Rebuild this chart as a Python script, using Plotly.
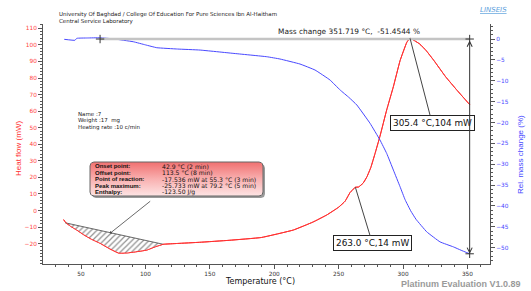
import numpy as np
import plotly.graph_objects as go

# ---------------- data ----------------
temp_heat = [36.5, 38, 42, 46.7, 52, 58, 64.8, 72, 79.2, 86, 92, 101, 108, 113.9,
             125, 142, 165, 190, 214.8, 230, 240.8, 250, 255, 259, 263, 265.5, 269,
             272, 275, 278.3, 282, 287.3, 292.5, 297.7, 302.9, 305.4, 309, 313, 318,
             324, 333, 342, 352]
heat_flow = [-5.5, -7.2, -9.6, -11.8, -14.6, -17.3, -19.8, -23.0, -25.7, -25.6, -25.0,
             -23.9, -21.8, -20.4, -19.9, -19.2, -18.0, -16.3, -11.8, -7.0, -2.7, 2.0,
             5.6, 11.0, 14.0, 14.2, 16.5, 20.4, 26.0, 34.5, 44.6, 60.7, 74.8, 90.5,
             101.5, 104.0, 102.5, 100.5, 96.5, 90.5, 80.8, 72.5, 63.7]

temp_mass = [37, 45.3, 46.7, 55, 64.8, 75, 90.6, 100, 108.8, 125, 142.4, 168, 194.2,
             204.5, 220, 231.7, 243.3, 251.1, 258, 264.1, 274.4, 282.1, 287.3, 292.5,
             297.7, 301.6, 306, 310.1, 318.4, 328.7, 339.1, 345, 351.719]
mass_change = [-0.07, -0.3, 0.17, 0.25, 0.3, 0.05, -0.65, -1.4, -2.08, -2.4, -2.64,
               -3.43, -4.24, -4.79, -5.99, -7.43, -9.82, -12.2, -14.0, -15.8, -20.2,
               -24.2, -27.4, -31.4, -35.4, -38.5, -41.2, -43.2, -46.2, -48.6, -49.8,
               -50.6, -51.4544]

baseline_temp = [37.6, 113.9]
baseline_flow = [-7.4, -20.4]

mass_ref_temp = 64.8
mass_end_temp = 351.719
mass_end_pct = -51.4544

peak_label = (305.4, 104.0, "305.4 °C,104 mW")
shoulder_label = (263.0, 14.0, "263.0 °C,14 mW")
pointer_pt = (72.5, -13.8)

x_ticks = [50, 100, 150, 200, 250, 300, 350]
left_ticks = list(range(-20, 111, 10))
right_ticks = list(range(-50, 1, 5))

callout_labels = ["Onset point:", "Offset point:", "Point of reaction:",
                  "Peak maximum:", "Enthalpy:"]
callout_values = ["42.9 °C (2 min)", "113.5 °C (8 min)",
                  "-17.536 mW at 55.3 °C (3 min)", "-25.733 mW at 79.2 °C (5 min)",
                  "-123.50 J/g"]
sample_info = ["Name :7", "Weight :17  mg", "Heating rate :10 c/min"]

# ---------------- layout geometry ----------------
W, H = 531, 291
L, R, T, B = 43, 490, 24, 264


def P(px, py):
    return (px - L) / (R - L), (B - py) / (B - T)


RED = "#ff3030"
BLUE = "#4848ff"
AX = "#555555"
FONT = "DejaVu Sans"

fig = go.Figure()

# blue mass curve (right axis)
fig.add_trace(go.Scatter(x=temp_mass, y=mass_change, yaxis="y2", mode="lines",
                         line=dict(color=BLUE, width=1, shape="spline", smoothing=0.3),
                         hoverinfo="skip", showlegend=False))

# red heat flow curve
fig.add_trace(go.Scatter(x=temp_heat, y=heat_flow, mode="lines",
                         line=dict(color=RED, width=1, shape="spline", smoothing=0.3),
                         hoverinfo="skip", showlegend=False))

# hatched integration area
fig.add_trace(go.Scatter(x=baseline_temp, y=baseline_flow, mode="lines",
                         line=dict(color="#444444", width=0.8),
                         hoverinfo="skip", showlegend=False))
th = np.array(temp_heat)
hf = np.array(heat_flow)
mask = (th > baseline_temp[0]) & (th < baseline_temp[1])
sub_x = [baseline_temp[0]] + list(th[mask]) + [baseline_temp[1]]
sub_y = [float(np.interp(baseline_temp[0], th, hf))] + list(hf[mask]) + \
        [float(np.interp(baseline_temp[1], th, hf))]
fig.add_trace(go.Scatter(x=sub_x, y=sub_y, mode="lines", line=dict(width=0, color=RED),
                         fill="tonexty", fillcolor="rgba(0,0,0,0)",
                         fillpattern=dict(shape="/", fgcolor="#222222", bgcolor="white",
                                          size=4, solidity=0.3),
                         hoverinfo="skip", showlegend=False))
# redraw red over the hatch
fig.add_trace(go.Scatter(x=temp_heat, y=heat_flow, mode="lines",
                         line=dict(color=RED, width=1, shape="spline", smoothing=0.3),
                         hoverinfo="skip", showlegend=False))

# mass change measurement line
fig.add_trace(go.Scatter(x=[mass_ref_temp, mass_end_temp], y=[0, 0], yaxis="y2",
                         mode="lines", line=dict(color="#c4c4c4", width=2.5),
                         hoverinfo="skip", showlegend=False))
fig.add_trace(go.Scatter(x=[mass_ref_temp, mass_end_temp, mass_end_temp],
                         y=[0, 0, mass_end_pct], yaxis="y2", mode="markers",
                         marker=dict(symbol="cross-thin", size=6,
                                     line=dict(color="#333333", width=1)),
                         hoverinfo="skip", showlegend=False))


# callout box (decoration) on pixel overlay axes
def rounded_rect(x0, y0, x1, y1, r):
    xs, ys = [], []
    corners = [(x1 - r, y0 + r, -90, 0), (x1 - r, y1 - r, 0, 90),
               (x0 + r, y1 - r, 90, 180), (x0 + r, y0 + r, 180, 270)]
    for cx, cy, a0, a1 in corners:
        for a in np.linspace(a0, a1, 6):
            xs.append(cx + r * np.cos(np.radians(a)))
            ys.append(cy + r * np.sin(np.radians(a)))
    xs.append(xs[0])
    ys.append(ys[0])
    return xs, ys


bx0, by0, bx1, by1 = 90, 162, 263, 196
sx, sy = rounded_rect(bx0 + 2, by0 + 2, bx1 + 2, by1 + 2, 4)
fig.add_trace(go.Scatter(x=sx, y=sy, xaxis="x3", yaxis="y3", mode="lines",
                         fill="toself", fillcolor="#9a9a9a", line=dict(width=0, color="#9a9a9a"),
                         hoverinfo="skip", showlegend=False))
cx_, cy_ = rounded_rect(bx0, by0, bx1, by1, 4)
fig.add_trace(go.Scatter(x=cx_, y=cy_, xaxis="x3", yaxis="y3", mode="lines",
                         fill="toself",
                         fillgradient=dict(type="vertical", start=by1, stop=by0,
                                           colorscale=[[0, "#fde4e4"], [0.5, "#f9b0b0"],
                                                       [1, "#f07070"]]),
                         line=dict(width=1, color="#666666"),
                         hoverinfo="skip", showlegend=False))

ann = []


def txt(px, py, text, size, color="#222222", xa="left", ya="middle", family=FONT, angle=0):
    x, y = P(px, py)
    ann.append(dict(x=x, y=y, xref="paper", yref="paper", text=text, showarrow=False,
                    xanchor=xa, yanchor=ya, textangle=angle,
                    font=dict(family=family, size=size, color=color)))


txt(57, 14.5, "University Of Baghdad / College Of Education For Pure Sciences Ibn Al-Haitham", 5.5)
txt(57, 21.3, "Central Service Laboratory", 5.5)
txt(478, 10, "<i><u>LINSEIS</u></i>", 7, color="#5aa0dc")
txt(275.7, 31, "Mass change 351.719 °C,&nbsp; -51.4544 %", 7.4, color="#222222")
for i, s in enumerate(sample_info):
    txt(76, 114 + i * 6.8, s, 5.5)
for i, (lab, val) in enumerate(zip(callout_labels, callout_values)):
    yy = 166 + i * 6.6
    txt(93, yy, "<b>" + lab + "</b>", 6, color="#111111", family="Liberation Sans")
    txt(160, yy, val, 6.1, color="#111111")

SANS = "Liberation Sans"
txt(18, 149, "Heat flow (mW)", 8, color=RED, xa="center", family=SANS, angle=-90)
txt(520, 155, "Rel. mass change (%)", 8, color=BLUE, xa="center", family=SANS, angle=-90)
txt(260, 281, "Temperature (°C)", 8, color="#111111", xa="center")
txt(461, 284, "<b>Platinum Evaluation V1.0.89</b>", 9, color="#9a9a9a", xa="center",
    family=SANS)

# value boxes with leader lines
ann.append(dict(x=peak_label[0], y=peak_label[1], xref="x", yref="y", text=peak_label[2],
                showarrow=True, arrowhead=0, arrowwidth=1, arrowcolor="#444444",
                ax=22, ay=84.5, bgcolor="white", bordercolor="#222222", borderwidth=1,
                borderpad=2, font=dict(family=FONT, size=8.9, color="#111111")))
ann.append(dict(x=shoulder_label[0], y=shoulder_label[1], xref="x", yref="y",
                text=shoulder_label[2], showarrow=True, arrowhead=0, arrowwidth=1,
                arrowcolor="#444444", ax=17, ay=56, bgcolor="white",
                bordercolor="#222222", borderwidth=1, borderpad=2,
                font=dict(family=FONT, size=8.9, color="#111111")))
# callout pointer
ann.append(dict(x=pointer_pt[0], y=pointer_pt[1], xref="x", yref="y", text="",
                showarrow=True, arrowhead=1, arrowsize=0.8, arrowwidth=0.8,
                arrowcolor="#444444", ax=41.7, ay=-33.3))
# mass change vertical arrow
ann.append(dict(x=mass_end_temp, y=mass_end_pct, xref="x", yref="y2", text="",
                showarrow=True, axref="x", ayref="y2", ax=mass_end_temp, ay=0,
                arrowside="end+start", arrowhead=5, startarrowhead=5, arrowsize=1,
                startarrowsize=1, arrowwidth=1, arrowcolor="#333333"))

tickfont = dict(family=FONT, size=5.8)

fig.update_layout(
    width=W, height=H, autosize=False,
    margin=dict(l=L, r=W - R, t=T, b=H - B, pad=0),
    paper_bgcolor="white", plot_bgcolor="white",
    showlegend=False,
    xaxis=dict(range=[20.5, 367.5], tickvals=x_ticks, showgrid=False, zeroline=False,
               showline=True, linecolor=AX, linewidth=1, ticks="outside", ticklen=4,
               tickcolor=AX, tickfont=dict(tickfont, color="#333333"),
               minor=dict(ticks="outside", ticklen=2, dtick=10, tick0=0, tickcolor=AX,
                          showgrid=False)),
    yaxis=dict(range=[-32.3, 112.6], tickvals=left_ticks, showgrid=False, zeroline=False,
               showline=True, linecolor=AX, linewidth=1, ticks="outside", ticklen=4,
               tickcolor=AX, tickfont=dict(tickfont, color="#ff4040"),
               minor=dict(ticks="outside", ticklen=2, dtick=2, tick0=0, tickcolor=AX,
                          showgrid=False)),
    yaxis2=dict(range=[-53.9, 3.6], tickvals=right_ticks, overlaying="y", side="right",
                showgrid=False, zeroline=False, showline=True, linecolor=AX, linewidth=1,
                ticks="outside", ticklen=4, tickcolor=AX,
                tickfont=dict(tickfont, color="#4848ff"),
                minor=dict(ticks="outside", ticklen=2, dtick=1, tick0=0, tickcolor=AX,
                           showgrid=False)),
    xaxis3=dict(range=[L, R], overlaying="x", visible=False, anchor="y3"),
    yaxis3=dict(range=[B, T], overlaying="y", visible=False, anchor="x3"),
    annotations=ann,
)

fig.write_html("out.html", config={"displayModeBar": False},
               post_script="document.body.style.margin='0';document.body.style.padding='0';")
